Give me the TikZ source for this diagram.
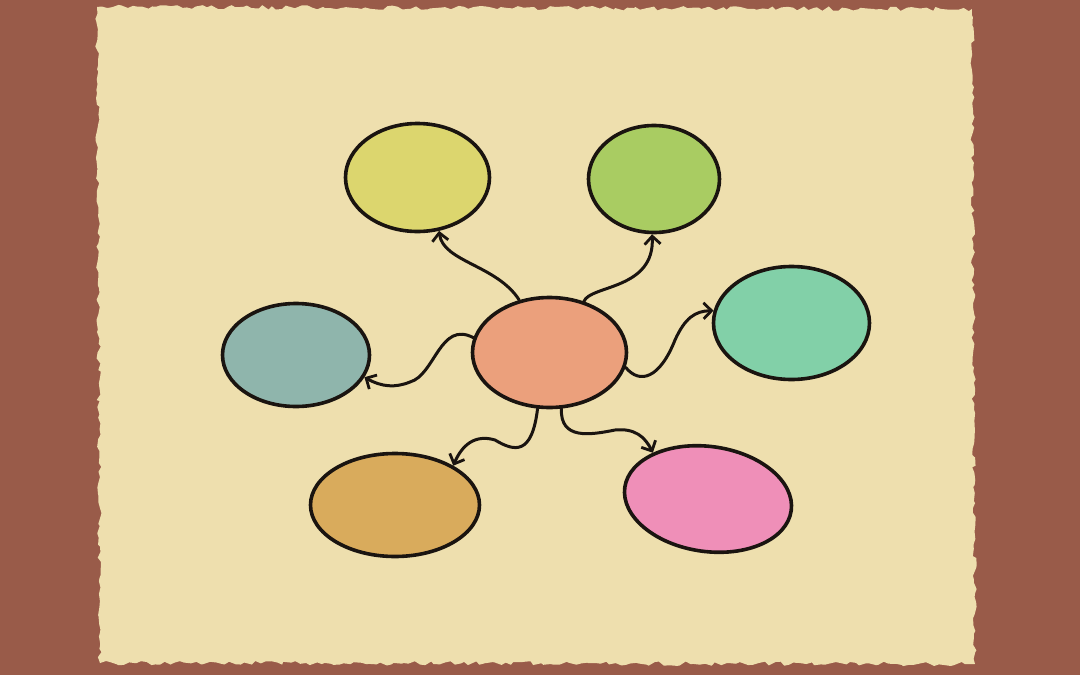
\documentclass[tikz,border=0pt]{standalone}
\usetikzlibrary{shapes.geometric,arrows.meta,decorations.pathmorphing}
\definecolor{bgbrown}{HTML}{995B49}
\definecolor{paper}{HTML}{EEDFAE}
\definecolor{cyellow}{HTML}{DCD66E}
\definecolor{cgreen}{HTML}{A9CC62}
\definecolor{cblue}{HTML}{8FB5AC}
\definecolor{ccenter}{HTML}{EBA07C}
\definecolor{cteal}{HTML}{82D0A8}
\definecolor{cochre}{HTML}{D9AB5C}
\definecolor{cpink}{HTML}{EF8FB8}
\definecolor{ink}{HTML}{1A1410}
\tikzset{
  bubble/.style={ellipse, draw=ink, line width=3.6pt, inner sep=0pt},
  link/.style={draw=ink, line width=3pt, line cap=round,
    -{Straight Barb[length=8pt,width=16pt,line width=2.8pt]}}
}
\begin{document}
\begin{tikzpicture}[x=1pt,y=-1pt]
\pgfmathsetseed{7}
\useasboundingbox (0,0) rectangle (1080,675);
\fill[bgbrown] (0,0) rectangle (1080,675);
% paper sheet with torn edges
\fill[paper, decorate, decoration={random steps, segment length=5pt, amplitude=2.2pt}]
  (97,7) -- (972,9) -- (975,664) -- (100,663) -- cycle;
% bubbles
\node[bubble, fill=cyellow, minimum width=144pt, minimum height=108pt] (yel) at (417.5,177.5) {};
\node[bubble, fill=cgreen,  minimum width=131pt, minimum height=107pt] (grn) at (654,179) {};
\node[bubble, fill=cblue,   minimum width=147pt, minimum height=103pt] (blu) at (296,355) {};
\node[bubble, fill=ccenter, minimum width=154pt, minimum height=110pt] (ctr) at (549.5,352.5) {};
\node[bubble, fill=cteal,   minimum width=156pt, minimum height=113pt] (tea) at (791.5,323) {};
\node[bubble, fill=cochre,  minimum width=169pt, minimum height=103pt] (och) at (395,505) {};
\node[bubble, fill=cpink,   minimum width=168pt, minimum height=105pt, rotate=-8] (pnk) at (708,499) {};
% connectors
\draw[link] (ctr.{120}) .. controls (497,265) and (443,262) .. (yel.{-68});
\draw[link] (ctr.{56}) .. controls (590,285) and (655,290) .. (grn.{-92});
\draw[link] (ctr.{169}) .. controls (440,320) and (435,375) .. (410,382)
   .. controls (395,388) and (382,387) .. (blu.{-18});
\draw[link] (ctr.{-11}) .. controls (640,385) and (660,378) .. (675,340)
   .. controls (685,318) and (695,311) .. (tea.{171});
\draw[link] (ctr.{-102}) .. controls (532,455) and (515,452) .. (495,440)
   .. controls (475,434) and (462,445) .. (och.{34});
\draw[link] (ctr.{-78}) .. controls (560,440) and (590,435) .. (615,430)
   .. controls (635,428) and (645,437) .. (pnk.{148});
\end{tikzpicture}
\end{document}
